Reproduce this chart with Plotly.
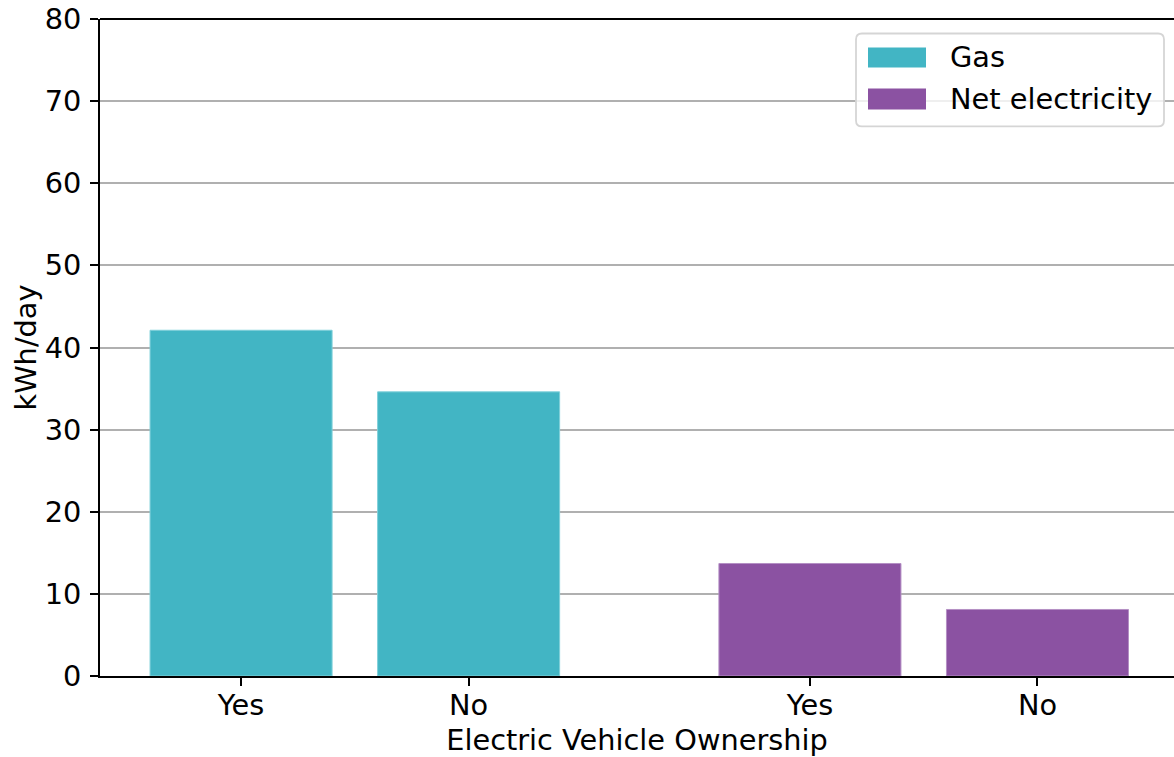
import plotly.graph_objects as go

categories = ["Yes", "No"]
series_names = ["Gas", "Net electricity"]
gas_values = [42.1, 34.6]
elec_values = [13.7, 8.1]
gas_positions = [0, 1]
elec_positions = [2.5, 3.5]
tick_labels = ["Yes", "No", "Yes", "No"]
series_colors = ["#42B5C4", "#8B52A2"]
edge_colors = ["#7fd0da", "#b48fc4"]

FONT = "DejaVu Sans"
FS = 28.8

W, H = 1174, 757
ML, MR, MT, MB = 100, 0, 18.5, 81
PW = W - ML - MR
PH = H - MT - MB


def px(X):
    return (X - ML) / PW


def py(Y):
    return 1 - (Y - MT) / PH


fig = go.Figure()
fig.add_trace(go.Bar(
    x=gas_positions, y=gas_values, name=series_names[0], width=0.8,
    marker=dict(color=series_colors[0], line=dict(color=edge_colors[0], width=1)),
    showlegend=False,
))
fig.add_trace(go.Bar(
    x=elec_positions, y=elec_values, name=series_names[1], width=0.8,
    marker=dict(color=series_colors[1], line=dict(color=edge_colors[1], width=1)),
    showlegend=False,
))

fig.update_layout(
    width=W, height=H,
    margin=dict(l=ML, r=MR, t=MT, b=MB),
    paper_bgcolor="white", plot_bgcolor="white",
    font=dict(family=FONT, size=FS, color="black"),
    barmode="overlay",
    showlegend=False,
    xaxis=dict(
        range=[-0.62, 4.10],
        tickmode="array", tickvals=gas_positions + elec_positions,
        ticktext=tick_labels,
        ticks="outside", ticklen=8, tickwidth=1.8, tickcolor="black",
        ticklabelstandoff=-5,
        showline=True, linecolor="black", linewidth=1.8, mirror=False,
        showgrid=False, zeroline=False,
        title=dict(text="Electric Vehicle Ownership", standoff=9,
                   font=dict(family=FONT, size=FS)),
    ),
    yaxis=dict(
        range=[0, 80], tickmode="linear", tick0=0, dtick=10,
        ticks="outside", ticklen=8, tickwidth=1.8, tickcolor="black",
        ticklabelstandoff=3, ticklabeloverflow="allow",
        showline=True, linecolor="black", linewidth=1.8, mirror=False,
        showgrid=True, gridcolor="#b0b0b0", gridwidth=1.8,
        zeroline=False,
        title=dict(text="kWh/day", standoff=0,
                   font=dict(family=FONT, size=FS)),
    ),
)

# top spine
fig.add_shape(type="line", xref="paper", yref="paper", x0=0, x1=1, y0=1, y1=1,
              line=dict(color="black", width=1.8), layer="above")

# legend box (rounded)
x0, x1, y0, y1 = px(856), px(1164), py(126), py(33)
rx, ry = 6 / PW, 6 / PH
path = (f"M {x0+rx},{y1} L {x1-rx},{y1} Q {x1},{y1} {x1},{y1-ry} "
        f"L {x1},{y0+ry} Q {x1},{y0} {x1-rx},{y0} L {x0+rx},{y0} "
        f"Q {x0},{y0} {x0},{y0+ry} L {x0},{y1-ry} Q {x0},{y1} {x0+rx},{y1} Z")
fig.add_shape(type="path", xref="paper", yref="paper", path=path,
              fillcolor="rgba(255,255,255,0.8)", line=dict(color="#d5d5d5", width=1.8),
              layer="above")

legend_rows = [(47, 67, 57), (88, 109, 99)]
for name, color, (ya, yb, yc) in zip(series_names, series_colors, legend_rows):
    fig.add_shape(type="rect", xref="paper", yref="paper",
                  x0=px(868), x1=px(926), y0=py(yb), y1=py(ya),
                  fillcolor=color, line=dict(width=0), layer="above")
    fig.add_annotation(xref="paper", yref="paper", x=px(948), y=py(yc),
                       text=name, showarrow=False, xanchor="left", yanchor="middle",
                       font=dict(family=FONT, size=FS, color="black"))

fig.write_html("out.html",
               config={"displayModeBar": False},
               post_script="document.body.style.margin='0';document.body.style.overflow='hidden';")
